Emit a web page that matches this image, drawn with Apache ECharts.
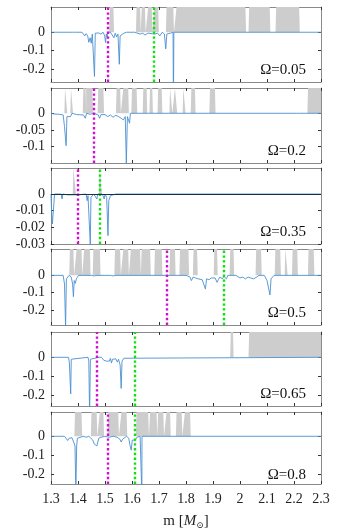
<!DOCTYPE html>
<html>
<head>
<meta charset="utf-8">
<script src="https://cdn.jsdelivr.net/npm/echarts@6/dist/echarts.min.js"></script>
<style>
  html, body { margin: 0; padding: 0; background: #fff; }
  #chart { width: 352px; height: 531px; }
</style>
</head>
<body>
<div id="chart"></div>
<script>
// x axis ticks, m in solar masses
const massTicks = [1.3, 1.4, 1.5, 1.6, 1.7, 1.8, 1.9, 2.0, 2.1, 2.2, 2.3]
const omegaLabels = ['Ω=0.05', 'Ω=0.2', 'Ω=0.35', 'Ω=0.5', 'Ω=0.65', 'Ω=0.8']

// y tick labels per panel
const yTicks = [
  [0, -0.1, -0.2],
  [0, -0.05, -0.1],
  [0, -0.01, -0.02, -0.03],
  [0, -0.1, -0.2],
  [0, -0.1, -0.2],
  [0, -0.1, -0.2]
]
const yMin = [-0.272, -0.149, -0.03, -0.286, -0.254, -0.2485]
const yMax = [0.138, 0.0757, 0.0156, 0.152, 0.132, 0.1265]

// dotted markers
const magentaMass = [1.515, 1.462, 1.404, 1.725, 1.473, 1.506]
const greenMass = [1.676, null, 1.478, 1.944, 1.607, 1.609]

// shaded (gray) mass ranges per panel
const gray1 = [[1.518, 1.531], [1.617, 1.63], [1.636, 1.648], [1.66, 1.673], [1.683, 1.697], [1.728, 1.753], [1.765, 2.02], [2.034, 2.11], [2.134, 2.219]]
const gray2 = [[1.352, 1.358], [1.374, 1.379], [1.42, 1.428], [1.43, 1.453], [1.475, 1.494], [1.543, 1.556], [1.568, 1.586], [1.6, 1.617], [1.642, 1.654], [1.667, 1.675], [1.697, 1.71], [1.741, 1.747], [1.759, 1.765], [1.79, 1.796], [1.82, 1.833], [1.889, 1.907], [2.252, 2.3]]
const gray3 = [[1.383, 1.39], [1.48, 1.486]]
const gray4 = [[1.37, 1.383], [1.395, 1.413], [1.423, 1.444], [1.457, 1.481], [1.537, 1.556], [1.568, 1.586], [1.596, 1.63], [1.636, 1.667], [1.685, 1.71], [1.741, 1.759], [1.778, 1.809], [1.828, 1.841], [1.905, 1.915], [1.964, 1.976], [2.06, 2.078], [2.131, 2.149], [2.168, 2.174], [2.195, 2.212], [2.254, 2.273]]
const gray5 = [[1.966, 1.974], [2.034, 2.3]]
const gray6 = [[1.389, 1.413], [1.45, 1.469], [1.481, 1.494], [1.512, 1.549], [1.561, 1.58], [1.617, 1.66], [1.667, 1.691], [1.697, 1.716], [1.728, 1.741], [1.765, 1.784], [1.796, 1.815]]

// blue curves [m, value]
const blue1 = [[1.3, 0], [1.38, 0], [1.385, -0.003], [1.39, 0], [1.415, 0], [1.42, -0.01], [1.425, -0.02], [1.43, -0.008], [1.436, -0.02], [1.44, -0.055], [1.445, -0.03], [1.449, -0.06], [1.453, -0.01], [1.458, -0.005], [1.461, -0.242], [1.464, -0.005], [1.47, -0.012], [1.477, -0.004], [1.485, -0.01], [1.493, 0], [1.499, -0.02], [1.502, -0.056], [1.505, -0.01], [1.508, -0.025], [1.511, 0], [1.52, 0], [1.527, -0.01], [1.533, -0.03], [1.538, -0.005], [1.543, -0.025], [1.548, -0.01], [1.553, -0.175], [1.556, -0.02], [1.562, -0.01], [1.57, -0.005], [1.58, 0], [1.61, 0], [1.618, -0.004], [1.63, -0.01], [1.64, -0.005], [1.648, -0.015], [1.654, -0.02], [1.66, -0.005], [1.675, -0.008], [1.685, -0.01], [1.695, -0.005], [1.703, -0.02], [1.708, -0.015], [1.712, 0], [1.72, -0.01], [1.725, -0.091], [1.729, -0.01], [1.735, -0.015], [1.742, -0.005], [1.748, 0], [1.752, 0], [1.7535, -0.4], [1.755, 0], [2.3, 0]]
const blue2 = [[1.3, 0], [1.31, -0.002], [1.315, 0], [1.33, -0.003], [1.335, 0], [1.345, -0.005], [1.35, -0.04], [1.356, -0.097], [1.359, -0.01], [1.365, -0.005], [1.372, -0.01], [1.378, 0], [1.395, -0.004], [1.4, 0], [1.42, -0.005], [1.427, -0.015], [1.432, 0], [1.445, -0.003], [1.46, 0], [1.475, -0.005], [1.48, -0.015], [1.485, -0.004], [1.49, -0.008], [1.5, -0.004], [1.51, -0.01], [1.52, -0.005], [1.53, -0.012], [1.54, -0.006], [1.55, -0.01], [1.56, -0.015], [1.568, -0.02], [1.575, -0.01], [1.579, -0.149], [1.583, -0.01], [1.587, -0.005], [1.591, -0.03], [1.594, 0], [2.21, 0], [2.215, 0.002], [2.22, 0], [2.3, 0]]
const blue3 = [[1.3, 0], [1.302, -0.01], [1.305, -0.018], [1.308, -0.017], [1.311, -0.005], [1.313, 0], [1.338, 0], [1.341, -0.003], [1.344, 0], [1.36, -0.0005], [1.4, -0.0005], [1.43, 0], [1.434, -0.004], [1.437, -0.001], [1.441, -0.002], [1.4455, -0.03], [1.448, -0.002], [1.455, -0.003], [1.458, 0], [1.47, -0.003], [1.473, 0], [1.49, 0], [1.497, -0.003], [1.5, 0], [1.506, -0.002], [1.508, -0.01], [1.511, -0.025], [1.514, -0.004], [1.52, -0.001], [1.54, 0], [2.3, 0]]
const blue4 = [[1.3, 0], [1.345, 0], [1.35, -0.05], [1.354, -0.3], [1.357, -0.02], [1.362, -0.02], [1.367, 0], [1.375, -0.01], [1.38, -0.05], [1.383, -0.123], [1.386, -0.03], [1.39, -0.046], [1.394, -0.02], [1.398, -0.025], [1.402, 0], [1.45, 0], [1.46, -0.003], [1.47, 0], [1.52, 0], [1.53, -0.003], [1.54, 0], [1.73, 0], [1.735, -0.008], [1.74, 0], [1.8, 0], [1.815, -0.01], [1.82, -0.03], [1.826, -0.01], [1.835, -0.015], [1.845, -0.02], [1.852, -0.015], [1.86, -0.025], [1.867, -0.03], [1.872, -0.079], [1.876, -0.02], [1.885, -0.025], [1.893, -0.015], [1.9, -0.02], [1.908, -0.015], [1.915, -0.04], [1.92, -0.025], [1.925, -0.01], [1.935, -0.02], [1.94, -0.005], [1.95, -0.02], [1.955, 0], [1.985, 0], [1.99, -0.01], [2.0, -0.015], [2.01, -0.01], [2.02, -0.02], [2.03, -0.01], [2.04, -0.015], [2.05, -0.02], [2.057, -0.03], [2.062, -0.01], [2.07, 0], [2.09, 0], [2.1, -0.03], [2.106, -0.02], [2.111, -0.113], [2.115, -0.02], [2.12, -0.025], [2.126, 0], [2.3, 0]]
const blue5 = [[1.3, 0], [1.365, 0], [1.368, -0.03], [1.371, -0.02], [1.373, -0.191], [1.375, -0.01], [1.378, 0], [1.437, 0], [1.44, -0.02], [1.443, -0.3], [1.446, -0.01], [1.45, 0], [1.478, 0], [1.482, -0.01], [1.487, 0], [1.495, -0.015], [1.5, -0.005], [1.505, -0.02], [1.51, -0.01], [1.516, -0.02], [1.52, -0.005], [1.524, -0.03], [1.528, -0.01], [1.535, -0.02], [1.54, -0.008], [1.546, -0.025], [1.55, -0.01], [1.556, -0.04], [1.56, -0.162], [1.563, -0.02], [1.566, -0.03], [1.57, -0.005], [1.575, 0], [2.3, 0]]
const blue6 = [[1.3, 0], [1.34, 0], [1.345, -0.005], [1.35, 0], [1.356, -0.01], [1.362, -0.022], [1.367, -0.01], [1.372, 0], [1.378, -0.008], [1.385, -0.01], [1.389, -0.05], [1.392, -0.3], [1.395, -0.05], [1.398, -0.01], [1.405, -0.005], [1.42, 0], [1.43, -0.005], [1.44, 0], [1.455, -0.02], [1.46, -0.04], [1.465, -0.03], [1.47, -0.05], [1.474, -0.058], [1.477, -0.01], [1.485, -0.005], [1.5, 0], [1.515, -0.005], [1.53, 0], [1.545, -0.005], [1.555, -0.015], [1.56, -0.03], [1.565, -0.015], [1.57, -0.005], [1.58, 0], [1.588, -0.01], [1.593, -0.05], [1.597, -0.072], [1.601, -0.02], [1.606, -0.01], [1.612, -0.02], [1.618, -0.005], [1.625, -0.01], [1.63, 0], [1.636, 0], [1.6365, -0.3], [1.637, 0], [2.3, 0]]

const grays = [gray1, gray2, gray3, gray4, gray5, gray6]
const blues = [blue1, blue2, blue3, blue4, blue5, blue6]

// layout
const gridTops = [7, 88, 168, 249, 332, 412]
const gridHeights = [75, 75, 76, 76, 74, 75]
const serif = '"Liberation Serif", "DejaVu Serif", serif'
const frameColor = '#8a8a8a'

// shaded ranges as a filled curve, slanted edges like the original sampling
function shadeData(ranges, top) {
  const ramp = 0.0025
  const pts = [[massTicks[0], 0]]
  ranges.forEach(([a, b]) => {
    pts.push([a - ramp, 0], [a, top], [b, top])
    if (b < 2.3) pts.push([b + ramp, 0])
  })
  if (pts[pts.length - 1][0] < 2.3) pts.push([2.3, 0])
  return pts
}

const chart = echarts.init(document.getElementById('chart'))
const grid = []
const xAxis = []
const yAxis = []
const series = []
const graphic = []

for (let i = 0; i < 6; i++) {
  grid.push({ left: 51, right: 31, top: gridTops[i], height: gridHeights[i], show: false })
  const last = i === 5
  const xBase = {
    gridIndex: i,
    type: 'value',
    min: 1.3,
    max: 2.3,
    interval: 0.1,
    axisLine: { show: true, onZero: false, lineStyle: { color: frameColor, width: 1 } },
    axisTick: { show: true, inside: true, length: 3, lineStyle: { color: '#333' } },
    splitLine: { show: false }
  }
  xAxis.push(Object.assign({}, xBase, {
    position: 'bottom',
    axisLabel: {
      show: last,
      margin: 8,
      fontFamily: serif,
      fontSize: 14,
      color: '#222',
      formatter: v => String(Math.round(v * 10) / 10)
    },
    name: last ? 'm [{i|M}{s|⊙}]' : '',
    nameLocation: 'middle',
    nameGap: 29,
    nameTextStyle: {
      fontFamily: serif,
      fontSize: 15,
      color: '#222',
      rich: {
        i: { fontFamily: serif, fontSize: 15, fontStyle: 'italic', color: '#222' },
        s: { fontFamily: serif, fontSize: 9, color: '#222', padding: [8, 0, 0, 0] }
      }
    }
  }))
  xAxis.push(Object.assign({}, xBase, { position: 'top', axisLabel: { show: false } }))

  const yBase = {
    gridIndex: i,
    type: 'value',
    min: yMin[i],
    max: yMax[i],
    axisLine: { show: true, onZero: false, lineStyle: { color: frameColor, width: 1 } },
    axisTick: { show: true, inside: true, length: 3, customValues: yTicks[i], lineStyle: { color: '#333' } },
    splitLine: { show: false }
  }
  yAxis.push(Object.assign({}, yBase, {
    position: 'left',
    axisLabel: {
      show: true,
      customValues: yTicks[i],
      margin: 6,
      fontFamily: serif,
      fontSize: 14,
      color: '#222'
    }
  }))
  yAxis.push(Object.assign({}, yBase, { position: 'right', axisLabel: { show: false } }))

  series.push({
    type: 'line',
    xAxisIndex: 2 * i,
    yAxisIndex: 2 * i,
    data: shadeData(grays[i], yMax[i]),
    symbol: 'none',
    silent: true,
    lineStyle: { width: 0 },
    areaStyle: { color: '#cdcdcd', opacity: 1 },
    z: 1
  })

  const marks = [{ xAxis: magentaMass[i], lineStyle: { color: '#d010d0' } }]
  if (greenMass[i] !== null) marks.push({ xAxis: greenMass[i], lineStyle: { color: '#10e010' } })
  if (i === 2) marks.push({ yAxis: 0, lineStyle: { color: '#1c2f44', type: 'solid', width: 1 } })

  series.push({
    type: 'line',
    xAxisIndex: 2 * i,
    yAxisIndex: 2 * i,
    data: blues[i],
    symbol: 'none',
    silent: true,
    lineStyle: { color: '#4a90d0', width: 0.9 },
    z: 3,
    markLine: {
      silent: true,
      symbol: 'none',
      animation: false,
      label: { show: false },
      lineStyle: { type: 'dotted', width: 2.4 },
      data: marks
    }
  })

  graphic.push({
    type: 'text',
    x: 306,
    y: gridTops[i] + gridHeights[i] - 12,
    style: {
      text: omegaLabels[i],
      align: 'right',
      verticalAlign: 'middle',
      font: '15px ' + serif,
      fill: '#111'
    },
    z: 10
  })
}

chart.setOption({
  animation: false,
  grid,
  xAxis,
  yAxis,
  series,
  graphic
})
</script>
</body>
</html>
